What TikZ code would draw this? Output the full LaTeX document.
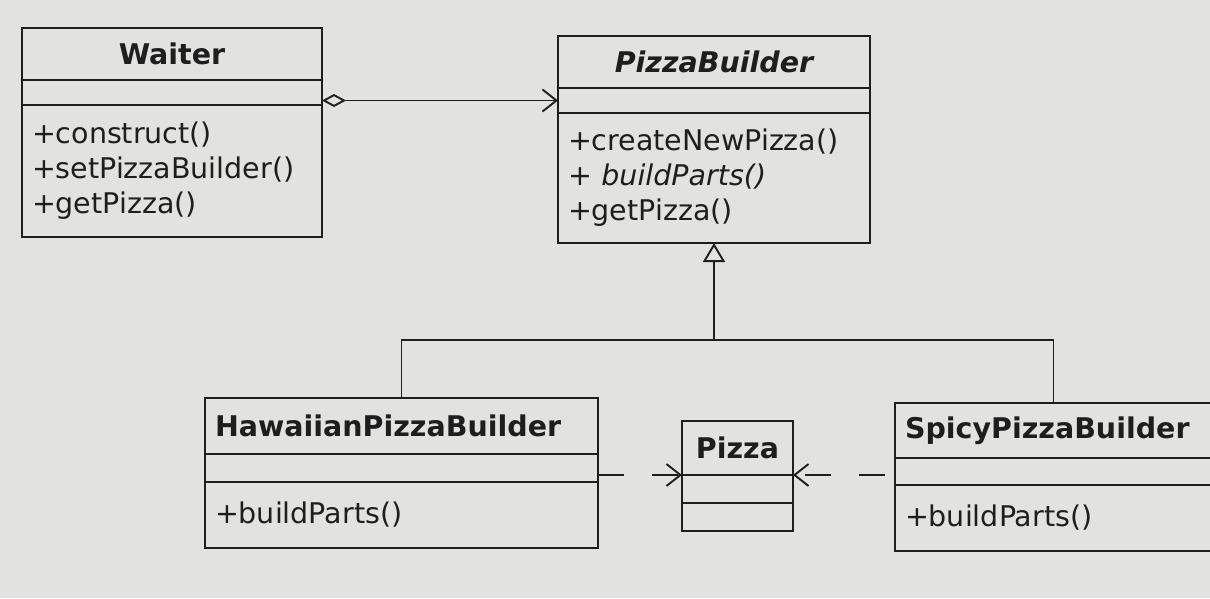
\documentclass[tikz,border=0pt]{standalone}
\usepackage{fontspec}
\setmainfont{DejaVu Sans}
\usetikzlibrary{arrows.meta,positioning,calc}
\definecolor{umlInk}{HTML}{1E1E1E}
\definecolor{umlPaper}{HTML}{E2E2E0}
\tikzset{
  >={Straight Barb[length=14pt,width=22pt]},
  cls/.style={draw=umlInk, line width=1.9pt, inner xsep=10pt, inner ysep=0pt,
              outer sep=0pt, text=umlInk},
  ctitle/.style={cls, font=\fontsize{28.5}{35}\selectfont\bfseries},
  cattr/.style={cls},
  cops/.style={cls, align=left, font=\fontsize{28.5}{35}\selectfont},
  assoc/.style={draw=umlInk, line width=1.9pt,
              {Diamond[open,length=24pt,width=13pt]}->},
  genline/.style={draw=umlInk, line width=1.9pt},
  gen/.style={draw=umlInk, line width=1.9pt,
              -{Triangle[open,length=19pt,width=22pt]}},
  dep/.style={draw=umlInk, line width=1.9pt, ->, dash pattern=on 26pt off 28pt},
}

\begin{document}
\begin{tikzpicture}[x=1pt,y=-1pt]
    \fill[umlPaper] (0,0) rectangle (1210,598);
    \useasboundingbox (0,0) rectangle (1210,598);
    \clip (0,0) rectangle (1210,598);

    % director
    \node[ctitle,minimum width=300pt,minimum height=52pt] (wtitle) at (172,54){Waiter};
    \node[cattr,minimum width=300pt,minimum height=25pt,below=0pt of wtitle] (wattr){};
    \node[cops,minimum width=300pt,minimum height=132pt,text width=280pt,below=0pt of wattr] (wops)
      {+construct()\\+setPizzaBuilder()\\+getPizza()};

    % abstract builder
    \node[ctitle,minimum width=312pt,minimum height=52pt] (btitle) at (714,62){\itshape PizzaBuilder};
    \node[cattr,minimum width=312pt,minimum height=25pt,below=0pt of btitle] (battr){};
    \node[cops,minimum width=312pt,minimum height=130pt,text width=292pt,below=0pt of battr] (bops)
      {+createNewPizza()\\+ \textit{buildParts()}\\+getPizza()};

    % concrete builders
    \node[ctitle,minimum width=393pt,minimum height=56pt,text width=373pt,align=left] (htitle) at (401.5,426){HawaiianPizzaBuilder};
    \node[cattr,minimum width=393pt,minimum height=28pt,below=0pt of htitle] (hattr){};
    \node[cops,minimum width=393pt,minimum height=66pt,text width=373pt,below=0pt of hattr] (hops){+buildParts()};

    \node[ctitle,minimum width=317pt,minimum height=55pt,text width=297pt,align=left] (stitle) at (1053.5,430.5){SpicyPizzaBuilder};
    \node[cattr,minimum width=317pt,minimum height=27pt,below=0pt of stitle] (sattr){};
    \node[cops,minimum width=317pt,minimum height=66pt,text width=297pt,below=0pt of sattr] (sops){+buildParts()};

    % product
    \node[ctitle,minimum width=111pt,minimum height=54pt] (ptitle) at (737.5,448){Pizza};
    \node[cattr,minimum width=111pt,minimum height=28pt,below=0pt of ptitle] (pattr){};
    \node[cattr,minimum width=111pt,minimum height=28pt,below=0pt of pattr] (pops){};

    % relations
    \draw[assoc] (battr.west -| wattr.east) -- (battr.west);
    \coordinate (gjoin) at (714,340);
    \draw[genline] (htitle.north) |- (gjoin) -| (stitle.north);
    \draw[gen] (gjoin) -- (bops.south);
    \draw[dep] (ptitle.south west -| hattr.east) -- (ptitle.south west);
    \draw[dep,dash phase=44pt] (ptitle.south east -| sattr.west) -- (ptitle.south east);
  \end{tikzpicture}
\end{document}
